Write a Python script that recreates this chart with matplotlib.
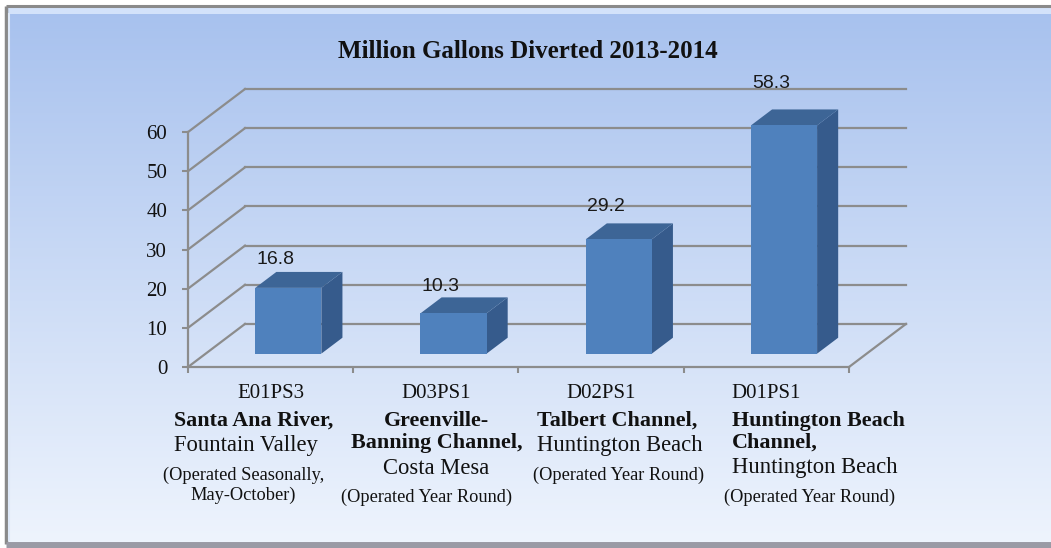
import matplotlib
matplotlib.use("Agg")
import matplotlib.pyplot as plt
import numpy as np
from matplotlib.patches import Polygon, Rectangle

# ---------------- data ----------------
codes = ["E01PS3", "D03PS1", "D02PS1", "D01PS1"]
names = ["Santa Ana River,", "Greenville-\nBanning Channel,", "Talbert Channel,", "Huntington Beach\nChannel,"]
cities = ["Fountain Valley", "Costa Mesa", "Huntington Beach", "Huntington Beach"]
notes = ["(Operated Seasonally,\nMay-October)", "(Operated Year Round)",
         "(Operated Year Round)", "(Operated Year Round)"]
values = [16.8, 10.3, 29.2, 58.3]
yticks = [0, 10, 20, 30, 40, 50, 60]
title = "Million Gallons Diverted 2013-2014"

# ---------------- layout ----------------
W, H = 1051, 548
DX, DY = 0.345, 11.0          # oblique depth offset (category units, value units)
F0, FD, BW = 0.31, 0.37, 0.40  # bar depth start, bar depth, bar width
GRID = "#8c8c8c"
FRONT, TOP, SIDE = "#4f81bd", "#3d6596", "#365b8c"
SERIF = "Liberation Serif"
SANS = "Liberation Sans"
# text-box anchoring below each category (offset in category units, alignment)
body_anchor = [(-0.584, "left"), (0.003, "center"), (-0.39, "left"), (-0.208, "left")]
note_anchor = [(-0.166, "center"), (-0.057, "center"), (-0.41, "left"), (-0.256, "left")]

fig = plt.figure(figsize=(W / 100, H / 100), dpi=100)
fig.patch.set_facecolor("white")

# background panel with gradient and bevelled border
bg = fig.add_axes([0, 0, 1, 1], zorder=-5)
bg.set_xlim(0, W)
bg.set_ylim(H, 0)
bg.axis("off")
grad = np.linspace(0, 1, 256)[:, None]
top_c = np.array([0xa7, 0xc1, 0xee]) / 255
bot_c = np.array([0xee, 0xf4, 0xfd]) / 255
img = top_c[None, None, :] * (1 - grad[..., None]) + bot_c[None, None, :] * grad[..., None]
bg.imshow(img, extent=[7, W, 542, 7], aspect="auto", interpolation="bilinear")
bg.add_patch(Rectangle((7, 8), W - 7, 6, color="#d3e2fa", lw=0))
bg.plot([6, W], [6, 6], color="#8a8a8a", lw=2.2, solid_capstyle="butt")
bg.plot([6, 6], [6, 544], color="#8a8a8a", lw=2.5, solid_capstyle="butt")
bg.plot([6, W], [545, 545], color="#9a9aa5", lw=5, solid_capstyle="butt")
bg.plot([9, 9], [14, 540], color="#dfe9f8", lw=1.5)

# main axes
x0, x1, y0, y1 = 188, 906, 367, 89
ax = fig.add_axes([x0 / W, 1 - y0 / H, (x1 - x0) / W, (y0 - y1) / H])
ax.patch.set_alpha(0)
n = len(values)
ax.set_xlim(0, n + DX)
ax.set_ylim(0, yticks[-1] + DY)

for s in ["top", "right"]:
    ax.spines[s].set_visible(False)
for s in ["left", "bottom"]:
    ax.spines[s].set_color(GRID)
    ax.spines[s].set_linewidth(1.6)
ax.spines["left"].set_bounds(0, yticks[-1])
ax.spines["bottom"].set_bounds(0, n)
ax.set_yticks(yticks)
ax.set_yticklabels([str(t) for t in yticks], fontfamily=SERIF, fontsize=15, color="#111111")
ax.set_xticks(range(n + 1))
ax.set_xticklabels([])
ax.tick_params(axis="both", color=GRID, width=1.5, length=4)
ax.tick_params(axis="y", pad=11)

# gridlines: back wall + side wall diagonals + floor
for t in yticks:
    ax.plot([DX, n + DX], [t + DY, t + DY], color=GRID, lw=1.6, zorder=1, clip_on=False)
    ax.plot([0, DX], [t, t + DY], color=GRID, lw=1.6, zorder=1, clip_on=False)
ax.plot([n, n + DX], [0, DY], color=GRID, lw=1.6, zorder=1, clip_on=False)

# bars
ox, oy = F0 * DX, F0 * DY
ddx, ddy = FD * DX, FD * DY
for i, v in enumerate(values):
    c = i + 0.5
    xl, xr = c - BW / 2 + ox, c + BW / 2 + ox
    ax.add_patch(Polygon([(xr, oy), (xr + ddx, oy + ddy), (xr + ddx, oy + v + ddy), (xr, oy + v)],
                         closed=True, fc=SIDE, ec="none", zorder=3, clip_on=False))
    ax.add_patch(Polygon([(xl, oy + v), (xr, oy + v), (xr + ddx, oy + v + ddy), (xl + ddx, oy + v + ddy)],
                         closed=True, fc=TOP, ec="none", zorder=3, clip_on=False))
    ax.add_patch(Rectangle((xl, oy), BW, v, fc=FRONT, ec="none", zorder=4, clip_on=False))
    ax.text(c + 0.03, 9.4 + 1.08 * v, f"{v:.1f}", ha="center", va="center",
            fontfamily=SANS, fontsize=14, color="#1a1a1a", zorder=6, clip_on=False)

# category labels (multi-line, mixed weights)
PX2PT = 0.72
for i in range(n):
    c = i + 0.5
    lines = [(codes[i], "normal", 15, "code")]
    for k, nm in enumerate(names[i].split("\n")):
        lines.append((nm, "bold", 15.8, "name" if k == 0 else "name2"))
    lines.append((cities[i], "normal", 16.3, "big2"))
    for k, nt in enumerate(notes[i].split("\n")):
        lines.append((nt, "normal", 13.2, "note" if k == 0 else "note2"))
    steps = {"name": 28, "name2": 22, "big2": 25, "note": 29, "note2": 20}
    y = 26
    for j, (txt, wt, fs, kind) in enumerate(lines):
        if j > 0:
            y += steps[kind]
        if kind == "code":
            xx, ha = c, "center"
        elif kind.startswith("note"):
            xx, ha = c + note_anchor[i][0], note_anchor[i][1]
        else:
            xx, ha = c + body_anchor[i][0], body_anchor[i][1]
        ax.annotate(txt, xy=(xx, 0), xycoords="data", xytext=(0, -y * PX2PT),
                    textcoords="offset points", ha=ha, va="center",
                    fontfamily=SERIF, fontweight=wt, fontsize=fs, color="#111111",
                    annotation_clip=False)

fig.text(528 / W, 1 - 51 / H, title, ha="center", va="center",
         fontfamily=SERIF, fontweight="bold", fontsize=18, color="#111111")

fig.savefig("out.png", dpi=100, facecolor=fig.get_facecolor())
